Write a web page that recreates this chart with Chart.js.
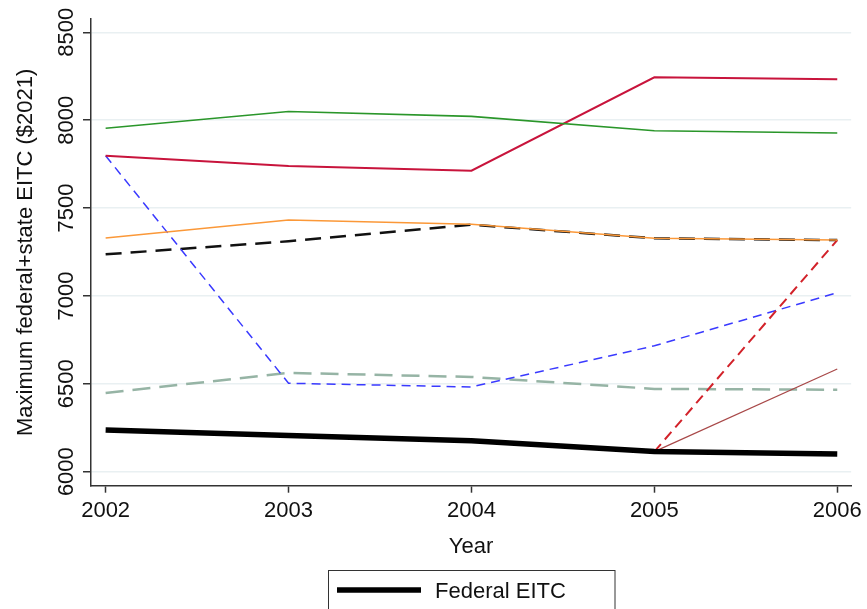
<!DOCTYPE html>
<html>
<head>
<meta charset="utf-8">
<script src="https://cdn.jsdelivr.net/npm/chart.js@4/dist/chart.umd.min.js"></script>
<style>
  html, body { margin: 0; padding: 0; background: #ffffff; }
  #wrap { width: 867px; height: 609px; position: relative; }
</style>
</head>
<body>
<div id="wrap"><canvas id="eitc" width="867" height="609"></canvas></div>
<script>
// Years on the horizontal axis
const years = [2002, 2003, 2004, 2005, 2006];
const yTicks = [6000, 6500, 7000, 7500, 8000, 8500];

// Maximum federal + state EITC, in 2021 dollars
const federalEitc   = [6237, 6205, 6176, 6114, 6101];
const greenSeries   = [7954, 8050, 8022, 7940, 7927];
const crimsonSeries = [7798, 7739, 7713, 8244, 8233];
const orangeSeries  = [7330, 7432, 7408, 7328, 7318];
const blackDashed   = [7237, 7311, 7405, 7328, 7318];
const blueDashed    = [7798, 6503, 6482, 6716, 7018];
const sageDashed    = [6448, 6562, 6539, 6471, 6466];
const redDashed     = [null, null, null, 6114, 7318];
const brownSeries   = [null, null, null, 6114, 6584];

const FONT = "'Liberation Sans', Arial, Helvetica, sans-serif";

function pts(values) {
  return years.map((yr, i) => ({ x: yr, y: values[i] }));
}

function line(label, values, color, width, dash) {
  return {
    label: label,
    data: pts(values),
    borderColor: color,
    backgroundColor: color,
    borderWidth: width,
    borderDash: dash || [],
    pointRadius: 0,
    pointHoverRadius: 0,
    tension: 0,
    fill: false,
    spanGaps: false,
    borderCapStyle: 'butt',
    borderJoinStyle: 'miter'
  };
}

// First dataset is painted last (on top)
const datasets = [
  line('Federal EITC', federalEitc, '#000000', 5.5),
  line('', orangeSeries, '#fb9838', 1.6),
  line('', greenSeries, '#2a962a', 1.6),
  line('', crimsonSeries, '#c8143c', 2),
  line('', redDashed, '#d2222a', 2, [10, 6]),
  line('', brownSeries, '#a84848', 1.2),
  line('', blueDashed, '#3a3aff', 1.5, [9, 6]),
  line('', sageDashed, '#96b4a5', 2.5, [18, 9]),
  line('', blackDashed, '#111111', 2.5, [16, 9])
];

// Boxed legend below the axis title, one entry per labelled series
const boxLegend = {
  id: 'boxLegend',
  afterDraw(chart) {
    const ctx = chart.ctx;
    const items = chart.data.datasets.filter(d => d.label);
    const left = 328.5, top = 570.5, w = 286.5, rowH = 32;
    ctx.save();
    ctx.strokeStyle = '#333333';
    ctx.lineWidth = 1;
    ctx.strokeRect(left, top, w, items.length * rowH + 30);
    items.forEach((d, i) => {
      const cy = top + 19.5 + i * rowH;
      ctx.beginPath();
      ctx.setLineDash(d.borderDash || []);
      ctx.strokeStyle = d.borderColor;
      ctx.lineWidth = d.borderWidth;
      ctx.moveTo(337, cy);
      ctx.lineTo(421, cy);
      ctx.stroke();
      ctx.setLineDash([]);
      ctx.fillStyle = '#111111';
      ctx.font = '22px ' + FONT;
      ctx.textAlign = 'left';
      ctx.textBaseline = 'middle';
      ctx.fillText(d.label, 435, cy + 2);
    });
    ctx.restore();
  }
};

new Chart(document.getElementById('eitc'), {
  type: 'line',
  data: { datasets: datasets },
  options: {
    responsive: false,
    animation: false,
    events: [],
    layout: { padding: { left: 0, top: 19, right: 14.7, bottom: 0 } },
    plugins: {
      legend: { display: false },
      tooltip: { enabled: false }
    },
    scales: {
      x: {
        type: 'linear',
        min: 2001.92,
        max: 2006.076,
        afterBuildTicks(scale) { scale.ticks = years.map(v => ({ value: v })); },
        afterFit(scale) { scale.height = 123.3; },
        ticks: {
          color: '#111111',
          font: { family: FONT, size: 22 },
          padding: 5,
          maxRotation: 0,
          autoSkip: false,
          callback: v => String(v)
        },
        grid: {
          drawOnChartArea: false,
          drawTicks: true,
          tickLength: 7,
          tickColor: '#333333',
          tickWidth: 1.5
        },
        border: { color: '#333333', width: 1.5 },
        title: {
          display: true,
          text: 'Year',
          color: '#111111',
          font: { family: FONT, size: 22 },
          padding: { top: 0, bottom: 49 }
        }
      },
      y: {
        type: 'linear',
        min: 5920,
        max: 8576,
        afterBuildTicks(scale) { scale.ticks = yTicks.map(v => ({ value: v })); },
        afterFit(scale) { scale.width = 91; },
        ticks: {
          color: '#111111',
          font: { family: FONT, size: 22 },
          minRotation: 90,
          maxRotation: 90,
          crossAlign: 'center',
          padding: -8,
          autoSkip: false,
          callback: v => String(v)
        },
        grid: {
          color: '#e9f0f2',
          lineWidth: 1.5,
          drawTicks: true,
          tickLength: 8,
          tickColor: '#333333',
          tickWidth: 1.5
        },
        border: { color: '#333333', width: 1.5 },
        title: {
          display: true,
          text: 'Maximum federal+state EITC ($2021)',
          color: '#111111',
          font: { family: FONT, size: 22 },
          padding: { top: 12.5, bottom: 0 }
        }
      }
    }
  },
  plugins: [boxLegend]
});
</script>
</body>
</html>
